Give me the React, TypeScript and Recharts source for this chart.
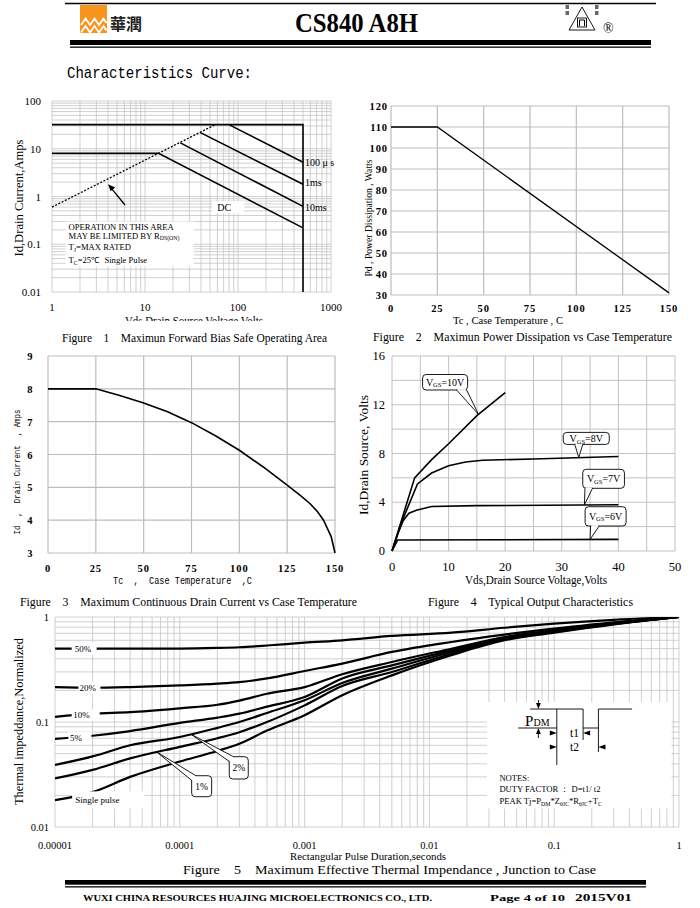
import React from 'react';
import { LineChart, Line, XAxis, YAxis, CartesianGrid, ReferenceDot, ReferenceArea } from 'recharts';

const SERIF = "'Liberation Serif', 'Times New Roman', serif";
const MONO = "'Liberation Mono', 'DejaVu Sans Mono', monospace";

// ---------- Figure 1 : safe operating area (log / log) ----------
const soaXMajor = [1, 10, 100, 1000];
const soaXLabels = ['1', '10', '100', '1000'];
const soaYMajor = [0.01, 0.1, 1, 10, 100];
const soaYLabels = ['0.01', '0.1', '1', '10', '100'];
const soaRdsOn = [{ x: 1, y: 0.6 }, { x: 57, y: 32 }];
const soaEnvelope = [{ x: 1, y: 32 }, { x: 500, y: 32 }, { x: 500, y: 0.01 }];
const soa100us = [{ x: 80, y: 32 }, { x: 500, y: 5.2 }];
const soa1ms = [{ x: 39, y: 22 }, { x: 500, y: 1.8 }];
const soa10ms = [{ x: 24, y: 13.3 }, { x: 500, y: 0.62 }];
const soaDC = [{ x: 1, y: 8 }, { x: 14, y: 8 }, { x: 500, y: 0.22 }];

// ---------- Figure 2 : power dissipation ----------
const pdTicksX = [0, 25, 50, 75, 100, 125, 150];
const pdTicksY = [30, 40, 50, 60, 70, 80, 90, 100, 110, 120];
const pdCurve = [{ x: 0, y: 110 }, { x: 25, y: 110 }, { x: 150, y: 31 }];

// ---------- Figure 3 : continuous drain current ----------
const idTicksX = [0, 25, 50, 75, 100, 125, 150];
const idTicksY = [3, 4, 5, 6, 7, 8, 9];
const idTemp = [0, 25, 37.5, 50, 62.5, 75, 87.5, 100, 112.5, 125, 132, 137, 141, 144, 146, 148, 149, 150];
const idAmps = [8, 8, 7.8, 7.57, 7.3, 6.97, 6.57, 6.13, 5.62, 5.07, 4.75, 4.5, 4.25, 4.0, 3.75, 3.5, 3.25, 3.0];

// ---------- Figure 4 : output characteristics ----------
const outGridX = [0, 5, 10, 15, 20, 25, 30, 35, 40, 45, 50];
const outLabelsX = [0, 10, 20, 30, 40, 50];
const outGridY = [0, 2, 4, 6, 8, 10, 12, 14, 16];
const outLabelsY = [0, 4, 8, 12, 16];
const vgs10 = [{ x: 0, y: 0 }, { x: 2, y: 3 }, { x: 4, y: 6 }, { x: 7, y: 7.5 }, { x: 10, y: 8.8 }, { x: 15, y: 11.1 }, { x: 20, y: 13 }];
const vgs8 = [{ x: 0, y: 0 }, { x: 2, y: 2.7 }, { x: 4.5, y: 5.5 }, { x: 7, y: 6.4 }, { x: 10, y: 7 }, { x: 13, y: 7.3 }, { x: 16, y: 7.45 }, { x: 25, y: 7.55 }, { x: 40, y: 7.75 }];
const vgs7 = [{ x: 0, y: 0 }, { x: 1, y: 1.4 }, { x: 2, y: 2.5 }, { x: 3, y: 3.1 }, { x: 4.3, y: 3.35 }, { x: 7, y: 3.65 }, { x: 15, y: 3.72 }, { x: 40, y: 3.8 }];
const vgs6 = [{ x: 0, y: 0 }, { x: 1, y: 0.9 }, { x: 40, y: 0.95 }];

// ---------- Figure 5 : transient thermal impedance ----------
const thXMajor = [0.00001, 0.0001, 0.001, 0.01, 0.1, 1];
const thXLabels = ['0.00001', '0.0001', '0.001', '0.01', '0.1', '1'];
const thYMajor = [0.01, 0.1, 1];
const thYLabels = ['0.01', '0.1', '1'];
const pulseSec = [1e-5, 2e-5, 4e-5, 1e-4, 2e-4, 3e-4, 5e-4, 1e-3, 2e-3, 5e-3, 1.5e-2, 4e-2, 0.1, 0.3, 1];
const zDuty50 = [0.5, 0.5, 0.5, 0.5, 0.507, 0.515, 0.535, 0.57, 0.6, 0.66, 0.71, 0.79, 0.864, 0.94, 1];
const zDuty20 = [0.215, 0.212, 0.215, 0.223, 0.232, 0.24, 0.26, 0.306, 0.36, 0.465, 0.578, 0.68, 0.774, 0.89, 1];
const zDuty10 = [0.112, 0.12, 0.124, 0.135, 0.146, 0.16, 0.186, 0.215, 0.285, 0.373, 0.499, 0.645, 0.746, 0.87, 1];
const zDuty5 = [0.069, 0.074, 0.082, 0.098, 0.11, 0.12, 0.14, 0.173, 0.26, 0.346, 0.481, 0.631, 0.736, 0.865, 1];
const zDuty2 = [0.039, 0.047, 0.06, 0.072, 0.088, 0.1, 0.122, 0.161, 0.235, 0.322, 0.464, 0.622, 0.73, 0.86, 1];
const zDuty1 = [0.029, 0.035, 0.045, 0.058, 0.07, 0.08, 0.1, 0.144, 0.22, 0.299, 0.447, 0.608, 0.72, 0.855, 1];
const zSingle = [0.018, 0.0215, 0.03, 0.042, 0.053, 0.062, 0.083, 0.116, 0.18, 0.278, 0.432, 0.6, 0.709, 0.85, 1];

const idRows = idTemp.map((t, i) => ({ x: t, y: idAmps[i] }));
const thermalRows = pulseSec.map((t, i) => ({
  x: t, d50: zDuty50[i], d20: zDuty20[i], d10: zDuty10[i], d5: zDuty5[i], d2: zDuty2[i], d1: zDuty1[i], single: zSingle[i],
}));

// decade grid ticks for log axes
const logTicks = (lo: number, hi: number) => {
  const out: number[] = [];
  for (let e = lo; e < hi; e++) for (let k = 1; k < 10; k++) out.push(k * Math.pow(10, e));
  out.push(Math.pow(10, hi));
  return out;
};

const same = (a: number, b: number) => Math.abs(a - b) <= 1e-9 * Math.max(Math.abs(a), Math.abs(b), 1e-9);

const xTick = (values: number[], labels: string[], dy: number, style: any) => (p: any) => {
  const i = values.findIndex((v) => same(v, p.payload.value));
  if (i < 0) return <g />;
  return <text x={p.x} y={p.y + dy} textAnchor="middle" fill="#000" {...style}>{labels[i]}</text>;
};
const yTick = (values: number[], labels: string[], dx: number, style: any) => (p: any) => {
  const i = values.findIndex((v) => same(v, p.payload.value));
  if (i < 0) return <g />;
  return <text x={p.x + dx} y={p.y + 4} textAnchor="end" fill="#000" {...style}>{labels[i]}</text>;
};

const anchor = (p: any) => {
  const vb = p.viewBox || {};
  return { cx: vb.x + (vb.width || 0) / 2, cy: vb.y + (vb.height || 0) / 2 };
};

function Callout({ cx, cy, box, wedge, children }: any) {
  const [l, t, r, b] = box;
  const [[ax, ay], [bx, by]] = wedge;
  const ex1 = ax + (bx - ax) * 0.08, ey1 = ay + (by - ay) * 0.08;
  const ex2 = ax + (bx - ax) * 0.92, ey2 = ay + (by - ay) * 0.92;
  return (
    <g>
      <rect x={cx + l} y={cy + t} width={r - l} height={b - t} rx={3.5} fill="#fff" stroke="#000" strokeWidth={0.9} />
      <polygon points={`${cx + ax},${cy + ay} ${cx},${cy} ${cx + bx},${cy + by}`} fill="#fff" stroke="#000" strokeWidth={0.9} />
      <line x1={cx + ex1} y1={cy + ey1} x2={cx + ex2} y2={cy + ey2} stroke="#fff" strokeWidth={1.8} />
      {children}
    </g>
  );
}

// callouts on figure 4
const vgsCallouts = [
  { at: { x: 15.3, y: 11.2 }, v: '10V', box: [-56, -40, -11, -24.5], wedge: [[-22, -24.5], [-12, -24.5]] },
  { at: { x: 33, y: 7.68 }, v: '8V', box: [-15.5, -25, 30.5, -13], wedge: [[-4, -13], [4, -13]] },
  { at: { x: 34, y: 3.79 }, v: '7V', box: [-1.7, -35.5, 40, -16.5], wedge: [[0.5, -16.5], [8, -16.5]] },
  { at: { x: 35, y: 0.95 }, v: '6V', box: [-5, -32.7, 36, -13.4], wedge: [[0.5, -13.4], [9, -13.4]] },
];

// white-backed labels on figure 5
const dutyLabels = [
  { at: { x: 1.36e-5, y: 0.5 }, text: '50%', w: 25, tx: 3 },
  { at: { x: 1.54e-5, y: 0.213 }, text: '20%', w: 22, tx: 1 },
  { at: { x: 1.36e-5, y: 0.116 }, text: '10%', w: 28, tx: 1.6 },
  { at: { x: 1.28e-5, y: 0.0705 }, text: '5%', w: 23, tx: 1.6 },
];
const dutyCallouts = [
  { at: { x: 1.24e-4, y: 0.076 }, text: '2%', box: [37.8, 22.2, 56.8, 44.5], wedge: [[37.8, 27], [42, 22.2]] },
  { at: { x: 6.5e-5, y: 0.052 }, text: '1%', box: [35.2, 23.9, 55.2, 44.9], wedge: [[35.2, 28.5], [39.5, 23.9]] },
];

const lineProps = { dot: false, activeDot: false, isAnimationActive: false, stroke: '#000', type: 'linear' as const };

function Fig1() {
  const gx = logTicks(0, 3);
  const gy = logTicks(-2, 2);
  const ts = { fontSize: 11, fontFamily: SERIF };
  return (
    <LineChart width={350} height={232} margin={{ top: 11, right: 19, bottom: 0, left: 0 }}>
      <CartesianGrid stroke="#c4c4c4" strokeWidth={0.8} />
      <XAxis type="number" dataKey="x" scale="log" domain={[1, 1000]} ticks={gx} interval={0} allowDataOverflow
        axisLine={false} tickLine={false} tickSize={0} tickMargin={0} height={30} tick={xTick(soaXMajor, soaXLabels, 18.5, ts)} />
      <YAxis type="number" scale="log" domain={[0.01, 100]} ticks={gy} interval={0} allowDataOverflow
        axisLine={false} tickLine={false} tickSize={0} tickMargin={0} width={52} tick={yTick(soaYMajor, soaYLabels, -11, ts)} />
      <Line data={soaEnvelope} dataKey="y" {...lineProps} strokeWidth={1.6} />
      <Line data={soa100us} dataKey="y" {...lineProps} strokeWidth={1.6} />
      <Line data={soa1ms} dataKey="y" {...lineProps} strokeWidth={1.6} />
      <Line data={soa10ms} dataKey="y" {...lineProps} strokeWidth={1.6} />
      <Line data={soaDC} dataKey="y" {...lineProps} strokeWidth={1.6} />
      <Line data={soaRdsOn} dataKey="y" {...lineProps} strokeWidth={1.3} strokeDasharray="2 1.6" />
      <ReferenceDot x={500} y={5.2} r={0.01} fill="none" stroke="none" ifOverflow="visible"
        label={(p: any) => { const { cx, cy } = anchor(p); return <text x={cx + 2} y={cy + 4} fontSize={10} fontFamily={SERIF}>{'100 \u03bc s'}</text>; }} />
      <ReferenceDot x={500} y={1.8} r={0.01} fill="none" stroke="none" ifOverflow="visible"
        label={(p: any) => { const { cx, cy } = anchor(p); return <text x={cx + 2} y={cy + 2} fontSize={10} fontFamily={SERIF}>1ms</text>; }} />
      <ReferenceDot x={500} y={0.62} r={0.01} fill="none" stroke="none" ifOverflow="visible"
        label={(p: any) => { const { cx, cy } = anchor(p); return <text x={cx + 2} y={cy + 4.5} fontSize={10} fontFamily={SERIF}>10ms</text>; }} />
      <ReferenceDot x={60} y={0.6} r={0.01} fill="none" stroke="none" ifOverflow="visible"
        label={(p: any) => {
          const { cx, cy } = anchor(p);
          return (
            <g>
              <rect x={cx - 5} y={cy - 6} width={32} height={12} fill="#fff" />
              <text x={cx} y={cy + 3.5} fontSize={10} fontFamily={SERIF}>DC</text>
            </g>
          );
        }} />
      <ReferenceDot x={4} y={1.8} r={0.01} fill="none" stroke="none" ifOverflow="visible"
        label={(p: any) => {
          const { cx, cy } = anchor(p);
          return (
            <g>
              <line x1={cx + 17} y1={cy + 20.7} x2={cx + 3} y2={cy + 3.5} stroke="#000" strokeWidth={1.3} />
              <polygon points={`${cx},${cy} ${cx + 7.2},${cy + 3.2} ${cx + 2.6},${cy + 7}`} fill="#000" />
            </g>
          );
        }} />
      <ReferenceDot x={1.4} y={0.3} r={0.01} fill="none" stroke="none" ifOverflow="visible"
        label={(p: any) => {
          const { cx, cy } = anchor(p);
          const f = { fontSize: 8.6, fontFamily: SERIF };
          return (
            <g>
              <rect x={cx} y={cy} width={128} height={45} fill="#fff" />
              <text x={cx + 3} y={cy + 8.2} {...f}>OPERATION IN THIS AREA</text>
              <text x={cx + 3} y={cy + 17.5} {...f}>MAY BE LIMITED BY R<tspan fontSize={5.8} dy={1.5}>DS(ON)</tspan></text>
              <text x={cx + 3} y={cy + 28.8} {...f}>T<tspan fontSize={5.8} dy={1.5}>J</tspan><tspan dy={-1.5}>=MAX RATED</tspan></text>
              <text x={cx + 3} y={cy + 42} {...f} style={{ whiteSpace: 'pre' }}>T<tspan fontSize={5.8} dy={1.5}>C</tspan><tspan dy={-1.5}>{'=25\u2103  Single Pulse'}</tspan></text>
            </g>
          );
        }} />
    </LineChart>
  );
}

function Fig2() {
  const ts = { fontSize: 10.5, fontWeight: 700, fontFamily: SERIF, letterSpacing: 0.9 };
  return (
    <LineChart width={340} height={230} margin={{ top: 11, right: 21, bottom: 0, left: 0 }}>
      <CartesianGrid stroke="#bdbdbd" strokeWidth={1.2} />
      <XAxis type="number" dataKey="x" domain={[0, 150]} ticks={pdTicksX} interval={0} axisLine={false} tickLine={false}
        tickSize={0} tickMargin={0} height={30} tick={xTick(pdTicksX, pdTicksX.map(String), 16.5, ts)} />
      <YAxis type="number" domain={[30, 120]} ticks={pdTicksY} interval={0} axisLine={false} tickLine={false}
        tickSize={0} tickMargin={0} width={41} tick={yTick(pdTicksY, pdTicksY.map(String), -3, ts)} />
      <Line data={pdCurve} dataKey="y" {...lineProps} strokeWidth={1.3} />
    </LineChart>
  );
}

function Fig3() {
  const ts = { fontSize: 10.5, fontWeight: 700, fontFamily: SERIF, letterSpacing: 0.9 };
  return (
    <LineChart width={355} height={238} margin={{ top: 11, right: 20, bottom: 0, left: 0 }}>
      <CartesianGrid stroke="#bdbdbd" strokeWidth={1.2} />
      <XAxis type="number" dataKey="x" domain={[0, 150]} ticks={idTicksX} interval={0} axisLine={false} tickLine={false}
        tickSize={0} tickMargin={0} height={30} tick={xTick(idTicksX, idTicksX.map(String), 18.5, ts)} />
      <YAxis type="number" domain={[3, 9]} ticks={idTicksY} interval={0} axisLine={false} tickLine={false}
        tickSize={0} tickMargin={0} width={48} tick={yTick(idTicksY, idTicksY.map(String), -14.5, ts)} />
      <Line data={idRows} dataKey="y" {...lineProps} strokeWidth={1.6} />
    </LineChart>
  );
}

function Fig4() {
  const ts = { fontSize: 12.5, fontFamily: SERIF };
  return (
    <LineChart width={345} height={236} margin={{ top: 11, right: 20, bottom: 0, left: 0 }}>
      <CartesianGrid stroke="#c2c2c2" strokeWidth={1} />
      <XAxis type="number" dataKey="x" domain={[0, 50]} ticks={outGridX} interval={0} axisLine={false} tickLine={false}
        tickSize={0} tickMargin={0} height={30} tick={xTick(outLabelsX, outLabelsX.map(String), 20, ts)} />
      <YAxis type="number" domain={[0, 16]} ticks={outGridY} interval={0} axisLine={false} tickLine={false}
        tickSize={0} tickMargin={0} width={42} tick={yTick(outLabelsY, outLabelsY.map(String), -7, ts)} />
      <Line data={vgs10} dataKey="y" {...lineProps} strokeWidth={1.6} />
      <Line data={vgs8} dataKey="y" {...lineProps} strokeWidth={1.6} />
      <Line data={vgs7} dataKey="y" {...lineProps} strokeWidth={1.6} />
      <Line data={vgs6} dataKey="y" {...lineProps} strokeWidth={1.6} />
      {vgsCallouts.map((c) => (
        <ReferenceDot key={c.v} x={c.at.x} y={c.at.y} r={0.01} fill="none" stroke="none" ifOverflow="visible"
          label={(p: any) => {
            const { cx, cy } = anchor(p);
            const mx = cx + (c.box[0] + c.box[2]) / 2;
            const my = cy + (c.box[1] + c.box[3]) / 2;
            return (
              <Callout cx={cx} cy={cy} box={c.box} wedge={c.wedge}>
                <text x={mx} y={my + 3.3} fontSize={10} fontFamily={SERIF} textAnchor="middle">
                  V<tspan fontSize={6.5} dy={1.8}>GS</tspan><tspan dy={-1.8}>={c.v}</tspan>
                </text>
              </Callout>
            );
          }} />
      ))}
    </LineChart>
  );
}

function NotesBox({ x, y }: { x: number; y: number }) {
  const s = { stroke: '#000', strokeWidth: 0.9, fill: 'none' };
  const right = (tx: number, ty: number) => <polygon points={`${x + tx},${y + ty} ${x + tx - 7},${y + ty - 2.4} ${x + tx - 7},${y + ty + 2.4}`} fill="#000" />;
  const left = (tx: number, ty: number) => <polygon points={`${x + tx},${y + ty} ${x + tx + 7},${y + ty - 2.4} ${x + tx + 7},${y + ty + 2.4}`} fill="#000" />;
  const f = { fontSize: 8.6, fontFamily: SERIF };
  return (
    <g>
      <line x1={x + 43} x2={x + 69.7} y1={y + 7} y2={y + 7} {...s} />
      <polyline points={`${x + 31},${y + 26} ${x + 69.7},${y + 26} ${x + 69.7},${y + 7} ${x + 96},${y + 7} ${x + 96},${y + 26} ${x + 111.3},${y + 26} ${x + 111.3},${y + 7} ${x + 145},${y + 7}`} {...s} />
      <line x1={x + 69.7} x2={x + 69.7} y1={y + 26} y2={y + 63} {...s} />
      <line x1={x + 96} x2={x + 96} y1={y + 26} y2={y + 38} {...s} />
      <line x1={x + 111.3} x2={x + 111.3} y1={y + 26} y2={y + 50} {...s} />
      <line x1={x + 51.3} x2={x + 51.3} y1={y - 2} y2={y + 2} {...s} />
      <polygon points={`${x + 51.3},${y + 7} ${x + 48.9},${y + 1} ${x + 53.7},${y + 1}`} fill="#000" />
      <line x1={x + 51.3} x2={x + 51.3} y1={y + 32} y2={y + 36} {...s} />
      <polygon points={`${x + 51.3},${y + 26} ${x + 48.9},${y + 32} ${x + 53.7},${y + 32}`} fill="#000" />
      <text x={x + 38} y={y + 24} fontSize={15} fontFamily={SERIF}>P<tspan fontSize={10}>DM</tspan></text>
      {right(69.7, 31)}
      {left(96, 31)}
      <text x={x + 83} y={y + 35} fontSize={11.5} fontFamily={SERIF}>t1</text>
      {right(69.7, 45)}
      {left(111.3, 45)}
      <text x={x + 83} y={y + 49} fontSize={11.5} fontFamily={SERIF}>t2</text>
      <text x={x + 12.3} y={y + 79} {...f}>NOTES:</text>
      <text x={x + 12.3} y={y + 90} {...f}>{'DUTY FACTOR \uff1a D=t1/ t2'}</text>
      <text x={x + 12.3} y={y + 102} {...f}>
        PEAK Tj=P<tspan fontSize={5.8} dy={1.5}>DM</tspan><tspan dy={-1.5}>*Z</tspan><tspan fontSize={5.8} dy={1.5}>θJC</tspan>
        <tspan dy={-1.5}>*R</tspan><tspan fontSize={5.8} dy={1.5}>θJC</tspan><tspan dy={-1.5}>+T</tspan><tspan fontSize={5.8} dy={1.5}>C</tspan>
      </text>
    </g>
  );
}

function Fig5() {
  const gx = logTicks(-5, 0);
  const gy = logTicks(-2, 0);
  const ts = { fontSize: 10.5, fontFamily: SERIF };
  const tp = { ...lineProps, type: 'monotone' as const, strokeWidth: 2.2 };
  return (
    <LineChart width={695} height={252} data={thermalRows} margin={{ top: 12, right: 16, bottom: 0, left: 0 }}>
      <CartesianGrid stroke="#c4c4c4" strokeWidth={0.8} />
      <XAxis type="number" dataKey="x" scale="log" domain={[0.00001, 1]} ticks={gx} interval={0} allowDataOverflow
        axisLine={false} tickLine={false} tickSize={0} tickMargin={0} height={30} tick={xTick(thXMajor, thXLabels, 22, ts)} />
      <YAxis type="number" scale="log" domain={[0.01, 1]} ticks={gy} interval={0} allowDataOverflow
        axisLine={false} tickLine={false} tickSize={0} tickMargin={0} width={55} tick={yTick(thYMajor, thYLabels, -6, ts)} />
      <ReferenceArea x1={0.029} x2={0.87} y1={0.015} y2={0.155} fill="#fff" fillOpacity={1} stroke="none" ifOverflow="visible"
        label={(p: any) => { const vb = p.viewBox || {}; return <NotesBox x={vb.x} y={vb.y} />; }} />
      <Line dataKey="d50" {...tp} />
      <Line dataKey="d20" {...tp} />
      <Line dataKey="d10" {...tp} />
      <Line dataKey="d5" {...tp} />
      <Line dataKey="d2" {...tp} />
      <Line dataKey="d1" {...tp} />
      <Line dataKey="single" {...tp} />
      {dutyLabels.map((d) => (
        <ReferenceDot key={d.text} x={d.at.x} y={d.at.y} r={0.01} fill="none" stroke="none" ifOverflow="visible"
          label={(p: any) => {
            const { cx, cy } = anchor(p);
            return (
              <g>
                <rect x={cx} y={cy - 6} width={d.w} height={12} fill="#fff" />
                <text x={cx + d.tx} y={cy + 3.2} fontSize={9} fontFamily={SERIF}>{d.text}</text>
              </g>
            );
          }} />
      ))}
      <ReferenceDot x={1.45e-5} y={0.02} r={0.01} fill="none" stroke="none" ifOverflow="visible"
        label={(p: any) => {
          const { cx, cy } = anchor(p);
          return (
            <g>
              <rect x={cx - 3} y={cy - 4} width={72} height={17} fill="#fff" />
              <text x={cx} y={cy + 8} fontSize={9} fontFamily={SERIF}>Single pulse</text>
            </g>
          );
        }} />
      {dutyCallouts.map((c) => (
        <ReferenceDot key={c.text} x={c.at.x} y={c.at.y} r={0.01} fill="none" stroke="none" ifOverflow="visible"
          label={(p: any) => {
            const { cx, cy } = anchor(p);
            const mx = cx + (c.box[0] + c.box[2]) / 2;
            const my = cy + (c.box[1] + c.box[3]) / 2;
            return (
              <Callout cx={cx} cy={cy} box={c.box} wedge={c.wedge}>
                <text x={mx} y={my + 3.3} fontSize={9.5} fontFamily={SERIF} textAnchor="middle">{c.text}</text>
              </Callout>
            );
          }} />
      ))}
    </LineChart>
  );
}

function VText({ x, y, len, size, children, family = SERIF }: any) {
  return (
    <text transform={`translate(${x},${y}) rotate(-90)`} textAnchor="middle" fontSize={size} fontFamily={family}
      textLength={len} lengthAdjust="spacingAndGlyphs" style={{ whiteSpace: 'pre' }}>{children}</text>
  );
}

function HText({ x, y, len, size, children, family = SERIF, weight = 400 }: any) {
  return (
    <text x={x} y={y} fontSize={size} fontFamily={family} fontWeight={weight} textLength={len}
      lengthAdjust="spacingAndGlyphs" style={{ whiteSpace: 'pre' }}>{children}</text>
  );
}

function Page() {
  return (
    <svg width={700} height={908} style={{ position: 'absolute', left: 0, top: 0 }}>
      <defs>
        <clipPath id="cutTitle1"><rect x={0} y={300} width={350} height={21} /></clipPath>
      </defs>
      {/* header */}
      <line x1={65} x2={656} y1={3.5} y2={3.5} stroke="#000" strokeWidth={1.5} />
      <rect x={80} y={5} width={27} height={28} fill="#f7941d" />
      <polyline points="81,25 85.5,18.5 90,25 94.5,18.5 99,25 103.5,18.5 106.5,23" fill="none" stroke="#fff" strokeWidth={1.8} />
      <polyline points="81,32.5 85.5,26 90,32.5 94.5,26 99,32.5 103.5,26 106.5,30.5" fill="none" stroke="#fff" strokeWidth={1.8} />
      <text x={110} y={30} fontFamily="'Noto Sans CJK TC', 'Noto Sans CJK SC'" fontSize={16} fontWeight={700} fill="#222">華潤</text>
      <HText x={295} y={32} len={123} size={27} weight={700}>CS840 A8H</HText>
      <polygon points="582,7 569,30 595,30" fill="none" stroke="#000" strokeWidth={0.9} />
      <rect x={577.5} y={18} width={9} height={9} fill="none" stroke="#000" strokeWidth={0.9} />
      <path d="M579.5,26 V20 H584.5 V26" fill="none" stroke="#000" strokeWidth={1} />
      <rect x={565.5} y={5} width={3.5} height={4} fill="#666" />
      <rect x={565.5} y={11} width={3.5} height={4} fill="#666" />
      <rect x={595} y={5} width={3.5} height={4} fill="#666" />
      <rect x={595} y={11} width={3.5} height={4} fill="#666" />
      <text x={603} y={33} fontSize={14} fontFamily={SERIF}>®</text>
      <rect x={70} y={40} width={581} height={5} fill="#000" />
      <rect x={70} y={46.5} width={581} height={1.3} fill="#000" />
      <HText x={67} y={78} len={185} size={17} family={MONO}>Characteristics Curve:</HText>

      {/* figure 1 */}
      <VText x={22.5} y={198} len={117} size={12.5}>Id,Drain Current,Amps</VText>
      <g clipPath="url(#cutTitle1)">
        <HText x={125} y={325} len={138} size={12}>Vds Drain Source Voltage Volts</HText>
      </g>
      <HText x={62} y={341.5} len={265} size={12.5}>{'Figure    1    Maximun Forward Bias Safe Operating Area'}</HText>

      {/* figure 2 */}
      <VText x={372} y={218} len={117} size={11}>Pd , Power Dissipation , Watts</VText>
      <HText x={453} y={323.5} len={110} size={10.5}>Tc , Case Temperature , C</HText>
      <HText x={373} y={340.5} len={299} size={12.5}>{'Figure    2    Maximun Power Dissipation vs Case Temperature'}</HText>

      {/* figure 3 */}
      <VText x={20} y={472} len={125} size={9.5} family={MONO}>{'Id  ,  Drain Current  , Amps'}</VText>
      <HText x={113} y={583.5} len={139} size={10} family={MONO}>{'Tc  ,  Case Temperature  ,C'}</HText>
      <HText x={20} y={605.5} len={337} size={12.5}>{'Figure    3    Maximum Continuous Drain Current vs Case Temperature'}</HText>

      {/* figure 4 */}
      <VText x={367.5} y={455} len={120} size={13}>Id,Drain Source, Volts</VText>
      <HText x={465} y={584} len={142} size={12}>Vds,Drain Source Voltage,Volts</HText>
      <HText x={428} y={605.5} len={205} size={12.5}>{'Figure    4    Typical Output Characteristics'}</HText>

      {/* figure 5 */}
      <VText x={22.5} y={721.5} len={167} size={13}>Thermal impeddance,Normalized</VText>
      <HText x={290} y={859.5} len={156} size={11}>Rectangular Pulse Duration,seconds</HText>
      <HText x={183} y={873.5} len={413} size={12.5}>{'Figure    5    Maximum Effective Thermal Impendance , Junction to Case'}</HText>

      {/* footer */}
      <rect x={65} y={880} width={581} height={4.7} fill="#000" />
      <rect x={65} y={886.2} width={581} height={1.3} fill="#000" />
      <HText x={83} y={900.5} len={349} size={9} weight={700}>WUXI CHINA RESOURCES HUAJING MICROELECTRONICS CO., LTD.</HText>
      <HText x={490} y={900.5} len={75} size={8.5} weight={700}>Page 4 of 10</HText>
      <HText x={575} y={900.5} len={57} size={10.5} weight={700}>2015V01</HText>
    </svg>
  );
}

const place = (left: number, top: number): React.CSSProperties => ({ position: 'absolute', left, top });

export default function App() {
  return (
    <div style={{ position: 'absolute', left: 0, top: 0, width: 700, height: 908, background: '#fff', fontFamily: SERIF, overflow: 'hidden' }}>
      <Page />
      <div style={place(0, 90)}><Fig1 /></div>
      <div style={place(350, 95)}><Fig2 /></div>
      <div style={place(0, 345)}><Fig3 /></div>
      <div style={place(350, 345)}><Fig4 /></div>
      <div style={place(0, 605)}><Fig5 /></div>
    </div>
  );
}
